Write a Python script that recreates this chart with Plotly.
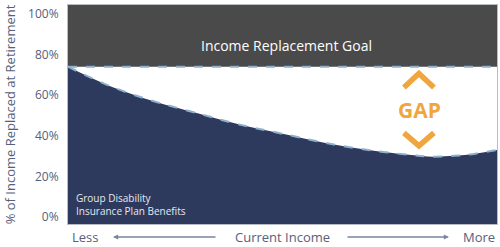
import plotly.graph_objects as go

# Data
income_pos = [0, 10, 20, 30, 40, 50, 60, 70, 80, 85, 90, 95, 100]
benefit_pct = [74, 64.3, 57, 51.2, 45.5, 41, 36.5, 33, 30.5, 29.7, 30.1, 31.2, 33]
goal_pct = 74
y_ticks = [0, 20, 40, 60, 80, 100]
y_min, y_max = -3.45, 104.4

NAVY = "#2d3a5e"
DARK = "#4a4a4a"
DASH = "#8fb0cc"
ORANGE = "#f0a53f"
TXT = "#56607a"
FONT = "Open Sans"

W, H = 500, 247
ml, mr, mt, mb = 68, 3, 5, 23
pw, ph = W - ml - mr, H - mt - mb
def px(xp):
    return (xp - ml) / pw
def py(yp):
    return (H - mb - yp) / ph

fig = go.Figure()
# goal band
fig.add_trace(go.Scatter(x=[0, 100], y=[goal_pct, goal_pct], mode="lines",
                         line=dict(width=0), hoverinfo="skip", showlegend=False))
fig.add_trace(go.Scatter(x=[0, 100], y=[y_max, y_max], mode="lines", fill="tonexty",
                         fillcolor=DARK, line=dict(width=0), hoverinfo="skip", showlegend=False))
# benefit area
fig.add_trace(go.Scatter(x=[0, 100], y=[y_min, y_min], mode="lines",
                         line=dict(width=0), hoverinfo="skip", showlegend=False))
fig.add_trace(go.Scatter(x=income_pos, y=benefit_pct, mode="lines", fill="tonexty",
                         fillcolor=NAVY, line=dict(width=0, shape="spline", smoothing=1.0),
                         hoverinfo="skip", showlegend=False))
# dashed edges
fig.add_trace(go.Scatter(x=income_pos, y=benefit_pct, mode="lines",
                         line=dict(color=DASH, width=2, dash="dash", shape="spline", smoothing=1.0),
                         hoverinfo="skip", showlegend=False))
fig.add_trace(go.Scatter(x=[0, 100], y=[goal_pct, goal_pct], mode="lines",
                         line=dict(color=DASH, width=2, dash="dash"),
                         hoverinfo="skip", showlegend=False))

# GAP chevrons
cx = 81.8
for (yy_end, yy_apex) in [(63.8, 70.7), (41.4, 35.0)]:
    fig.add_shape(type="path", xref="x", yref="y",
                  path=f"M {cx-3.5},{yy_end} L {cx},{yy_apex} L {cx+3.5},{yy_end}",
                  line=dict(color=ORANGE, width=5.5))

fig.add_annotation(x=51, y=84.5, xref="x", yref="y", text="Income Replacement Goal", showarrow=False,
                   font=dict(family=FONT, size=14, color="#ffffff"))
fig.add_annotation(x=81.9, y=52.5, xref="x", yref="y", text="<b>GAP</b>", showarrow=False,
                   font=dict(family=FONT, size=21, color=ORANGE))
fig.add_annotation(x=px(74), y=py(204.5), xref="paper", yref="paper",
                   text="Group Disability<br>Insurance Plan Benefits",
                   showarrow=False, xanchor="left", yanchor="middle", align="left",
                   font=dict(family=FONT, size=10, color="#e6e8ee"))

# bottom axis labels and arrows
for xp, t in [(85, "Less"), (282, "Current Income"), (479, "More")]:
    fig.add_annotation(x=px(xp), y=py(237), xref="paper", yref="paper", text=t, showarrow=False,
                       xanchor="center", yanchor="middle",
                       font=dict(family=FONT, size=13, color=TXT))
fig.add_annotation(x=px(113), y=py(237), ax=104, ay=0, xref="paper", yref="paper",
                   text="", showarrow=True, arrowhead=2,
                   arrowsize=0.8, arrowwidth=1.3, arrowcolor="#7a84a0")
fig.add_annotation(x=px(449), y=py(237), ax=-103, ay=0, xref="paper", yref="paper",
                   text="", showarrow=True, arrowhead=2,
                   arrowsize=0.8, arrowwidth=1.3, arrowcolor="#7a84a0")

fig.update_layout(
    width=W, height=H,
    margin=dict(l=ml, r=mr, t=mt, b=mb),
    paper_bgcolor="white", plot_bgcolor="white",
    font=dict(family=FONT, color=TXT),
    xaxis=dict(range=[0, 100], showticklabels=False, showgrid=False, zeroline=False,
               showline=True, linecolor="#b8bcc6", linewidth=1, mirror=True, ticks=""),
    yaxis=dict(range=[y_min, y_max], tickvals=y_ticks, ticktext=[f"{v}%" for v in y_ticks],
               showgrid=False, zeroline=False, showline=True, linecolor="#b8bcc6", linewidth=1,
               mirror=True, ticks="", tickfont=dict(family=FONT, size=12, color=TXT),
               ticklabelstandoff=6,
               title=dict(text="% of Income Replaced at Retirement", standoff=9,
                          font=dict(family=FONT, size=13, color=TXT))),
    showlegend=False,
)

fig.write_html("out.html")
